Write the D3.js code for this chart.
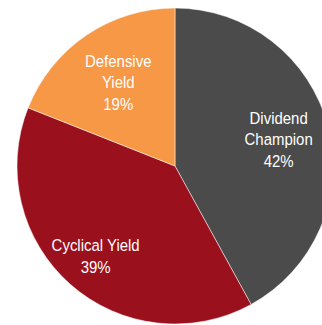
<!DOCTYPE html>
<html lang="en">
<head>
	<meta charset="UTF-8">
	<title>Pie</title>
	<script src="https://d3js.org/d3.v7.min.js"></script>
	<style>
		body { margin: 0; background-color: white; }
		svg { display: block; }
		.arc path { stroke: #fff; stroke-width: 0.5; }
		.arc text {
			font-family: "Liberation Sans", Arial, sans-serif;
			font-size: 17px;
			fill: #fff;
			text-anchor: middle;
		}
	</style>
</head>
<body>
	<script>
		var categories = ['Dividend Champion', 'Cyclical Yield', 'Defensive Yield'];
		var shares = [42, 39, 19];
		var labelLines = [['Dividend', 'Champion', '42%'], ['Cyclical Yield', '39%'], ['Defensive', 'Yield', '19%']];

		var width = 322, height = 325,
			cx = 175, cy = 166,
			radius = 158;

		// label distance from centre, per slice
		var labelRadius = {'Dividend Champion': 107, 'Cyclical Yield': 120, 'Defensive Yield': 101};
		var lineGap = 21.5;

		var data = categories.map(function (c, i) {
			return {name: c, value: shares[i], lines: labelLines[i]};
		});

		var color = d3.scaleOrdinal()
			.domain(categories)
			.range(['#4b4b4b', '#9a101c', '#f79847']);

		var pie = d3.pie()
			.sort(null)
			.value(function (d) { return d.value; });

		var arc = d3.arc()
			.outerRadius(radius)
			.innerRadius(0);

		var svg = d3.select('body')
			.append('svg')
			.attr('width', width)
			.attr('height', height)
			.append('g')
			.attr('transform', 'translate(' + cx + ',' + cy + ')');

		var g = svg.selectAll('.arc')
			.data(pie(data))
			.enter().append('g')
			.attr('class', 'arc');

		g.append('path')
			.attr('d', arc)
			.style('fill', function (d) { return color(d.data.name); });

		g.each(function (d) {
			var r = labelRadius[d.data.name];
			var a = (d.startAngle + d.endAngle) / 2;
			var x = r * Math.sin(a), y = -r * Math.cos(a);
			var n = d.data.lines.length;
			var t = d3.select(this).append('text')
				.attr('transform', 'translate(' + x + ',' + y + ') scale(0.88,1)');
			d.data.lines.forEach(function (line, i) {
				t.append('tspan')
					.attr('x', 0)
					.attr('y', (i - (n - 1) / 2) * lineGap + 6)
					.text(line);
			});
		});
	</script>
</body>
</html>
